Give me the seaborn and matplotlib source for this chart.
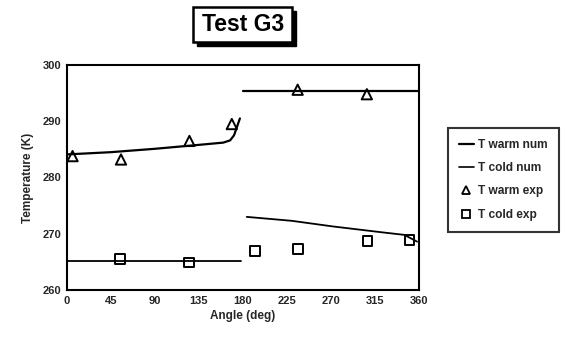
import matplotlib
matplotlib.use("Agg")
import matplotlib.pyplot as plt
import seaborn as sns
import pandas as pd
from matplotlib.patches import Rectangle
from matplotlib.lines import Line2D

# Data
warm_num_a_x = [0, 45, 90, 135, 160, 167, 171, 174, 177]
warm_num_a_y = [284.1, 284.5, 285.1, 285.8, 286.2, 286.6, 287.5, 289.0, 290.5]
warm_num_b_x = [180, 360]
warm_num_b_y = [295.3, 295.3]
cold_num_a_x = [0, 178]
cold_num_a_y = [265.2, 265.2]
cold_num_b_x = [184, 230, 272, 320, 345, 358]
cold_num_b_y = [273.0, 272.3, 271.3, 270.3, 269.8, 268.6]
warm_exp_x = [6, 55.5, 125.4, 168.7, 236, 306.7]
warm_exp_y = [283.8, 283.2, 286.5, 289.5, 295.6, 294.8]
cold_exp_x = [54.5, 125.4, 192.5, 236, 307.4, 350.3]
cold_exp_y = [265.5, 264.9, 266.9, 267.3, 268.7, 268.9]
x_ticks = [0, 45, 90, 135, 180, 225, 270, 315, 360]
y_ticks = [260, 270, 280, 290, 300]

sns.set_style("white")
plt.rcParams['font.family'] = ['Liberation Sans', 'DejaVu Sans']

fig = plt.figure(figsize=(5.67, 3.42), dpi=100)
ax = fig.add_axes([0.1176, 0.152, 0.6214, 0.658])

def seg(x, y, lw):
    df = pd.DataFrame({"x": x, "y": y})
    sns.lineplot(data=df, x="x", y="y", ax=ax, color="black", lw=lw, sort=False, estimator=None)

seg(warm_num_a_x, warm_num_a_y, 1.6)
seg(warm_num_b_x, warm_num_b_y, 1.6)
seg(cold_num_a_x, cold_num_a_y, 1.3)
seg(cold_num_b_x, cold_num_b_y, 1.3)

sns.scatterplot(x=warm_exp_x, y=warm_exp_y, ax=ax, marker="^", s=55,
                facecolor="none", edgecolor="black", linewidth=1.4)
sns.scatterplot(x=cold_exp_x, y=cold_exp_y, ax=ax, marker="s", s=50,
                facecolor="none", edgecolor="black", linewidth=1.4)

ax.set_xlim(0, 360)
ax.set_ylim(260, 300)
ax.set_xticks(x_ticks)
ax.set_yticks(y_ticks)
ax.tick_params(direction="in", length=4, width=1.2, labelsize=8, pad=4)
for lab in ax.get_xticklabels() + ax.get_yticklabels():
    lab.set_fontweight("bold")
for sp in ax.spines.values():
    sp.set_linewidth(1.5)
    sp.set_color("black")
ax.set_xlabel("Angle (deg)", fontsize=8.5, fontweight="bold", labelpad=3)
ax.set_ylabel("Temperature (K)", fontsize=8.5, fontweight="bold", labelpad=6)

# Title box with shadow
fig.patches.append(Rectangle((197/567, 1 - 46/342), 99/567, 35/342, transform=fig.transFigure,
                             fc="black", ec="black", zorder=1))
fig.patches.append(Rectangle((193/567, 1 - 42/342), 99/567, 35/342, transform=fig.transFigure,
                             fc="white", ec="black", lw=1.8, zorder=2))
fig.text(243/567, 1 - 24.5/342, "Test G3", ha="center", va="center", fontsize=16.5,
         fontweight="bold", color="black", zorder=3)

handles = [
    Line2D([], [], color="black", lw=1.6),
    Line2D([], [], color="black", lw=1.2),
    Line2D([], [], color="black", lw=0, marker="^", mfc="none", mec="black", ms=6, mew=1.3),
    Line2D([], [], color="black", lw=0, marker="s", mfc="none", mec="black", ms=5.5, mew=1.3),
]
labels = ["T warm num", "T cold num", "T warm exp", "T cold exp"]
leg = fig.legend(handles, labels, loc="upper left", bbox_to_anchor=(442/567, 1 - 122/342),
                 frameon=True, fancybox=False, edgecolor="black",
                 handlelength=1.3, handletextpad=0.35, labelspacing=0.95, borderpad=0.9,
                 prop={"weight": "bold", "size": 8.6})
leg.get_frame().set_linewidth(1.5)

fig.savefig("out.png", dpi=100)
